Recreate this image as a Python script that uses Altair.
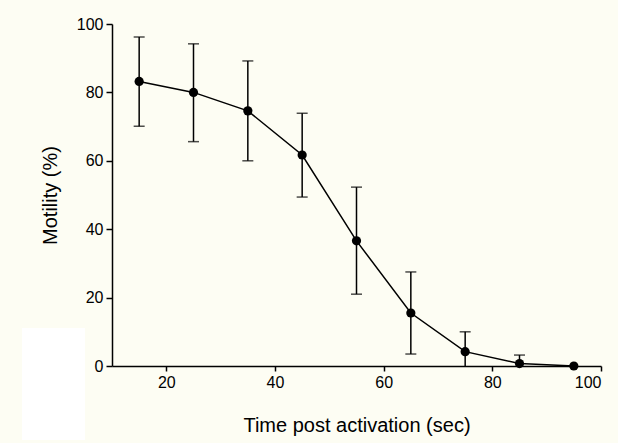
import altair as alt
import pandas as pd

time = [15, 25, 35, 45, 55, 65, 75, 85, 95]
motility = [83.2, 80.0, 74.6, 61.7, 36.6, 15.5, 4.2, 0.7, 0.0]
err_hi = [96.2, 94.2, 89.2, 73.9, 52.3, 27.5, 10.0, 3.2, 0.0]
err_lo = [70.1, 65.6, 60.0, 49.4, 21.0, 3.5, 0.0, 0.0, 0.0]

df = pd.DataFrame({"t": time, "m": motility, "hi": err_hi, "lo": err_lo})

FONT = "Liberation Sans"
xs = alt.Scale(domain=[10, 100], nice=False, zero=False)
ys = alt.Scale(domain=[0, 100], nice=False)

base = alt.Chart(df)

xaxis = alt.Axis(values=[20, 40, 60, 80, 100], title="Time post activation (sec)",
                 tickSize=5, labelPadding=3, titlePadding=25)
yaxis = alt.Axis(values=[0, 20, 40, 60, 80, 100], title="Motility (%)",
                 tickSize=6, labelPadding=3, titlePadding=16)

bars = base.mark_rule(color="black", strokeWidth=1.5).encode(
    x=alt.X("t:Q", scale=xs, axis=xaxis),
    y=alt.Y("lo:Q", scale=ys, axis=yaxis),
    y2="hi:Q",
)
caps_hi = base.mark_tick(color="black", thickness=1.5, size=11, orient="horizontal").encode(
    x=alt.X("t:Q", scale=xs, axis=xaxis), y=alt.Y("hi:Q", scale=ys, axis=yaxis)
).transform_filter("datum.hi > datum.m")
caps_lo = base.mark_tick(color="black", thickness=1.5, size=11, orient="horizontal").encode(
    x=alt.X("t:Q", scale=xs, axis=xaxis), y=alt.Y("lo:Q", scale=ys, axis=yaxis)
).transform_filter("datum.lo > 0.5")
line = base.mark_line(color="black", strokeWidth=1.5).encode(
    x=alt.X("t:Q", scale=xs, axis=xaxis), y=alt.Y("m:Q", scale=ys, axis=yaxis)
)
pts = base.mark_circle(color="black", opacity=1, size=85).encode(
    x=alt.X("t:Q", scale=xs, axis=xaxis), y=alt.Y("m:Q", scale=ys, axis=yaxis)
)
patch = alt.Chart(pd.DataFrame({"a": [0]})).mark_rect(color="white", clip=False).encode(
    x=alt.value(-90), x2=alt.value(-27), y=alt.value(304), y2=alt.value(416)
)

chart = alt.layer(patch, bars, caps_hi, caps_lo, line, pts).properties(
    width=489, height=342,
    autosize=alt.AutoSizeParams(type="none"),
    padding={"left": 112, "top": 24, "right": 17, "bottom": 77},
    background="#fdfdf3",
).configure_view(stroke=None).configure_axis(
    grid=False, domainColor="black", domainWidth=1.5, tickColor="black",
    tickWidth=1.5, labelFont=FONT, labelFontSize=16, labelColor="black",
    titleFont=FONT, titleFontSize=20, titleFontWeight="normal", titleColor="black",
)

chart.save("out.html", embed_options={"renderer": "svg", "actions": False})
